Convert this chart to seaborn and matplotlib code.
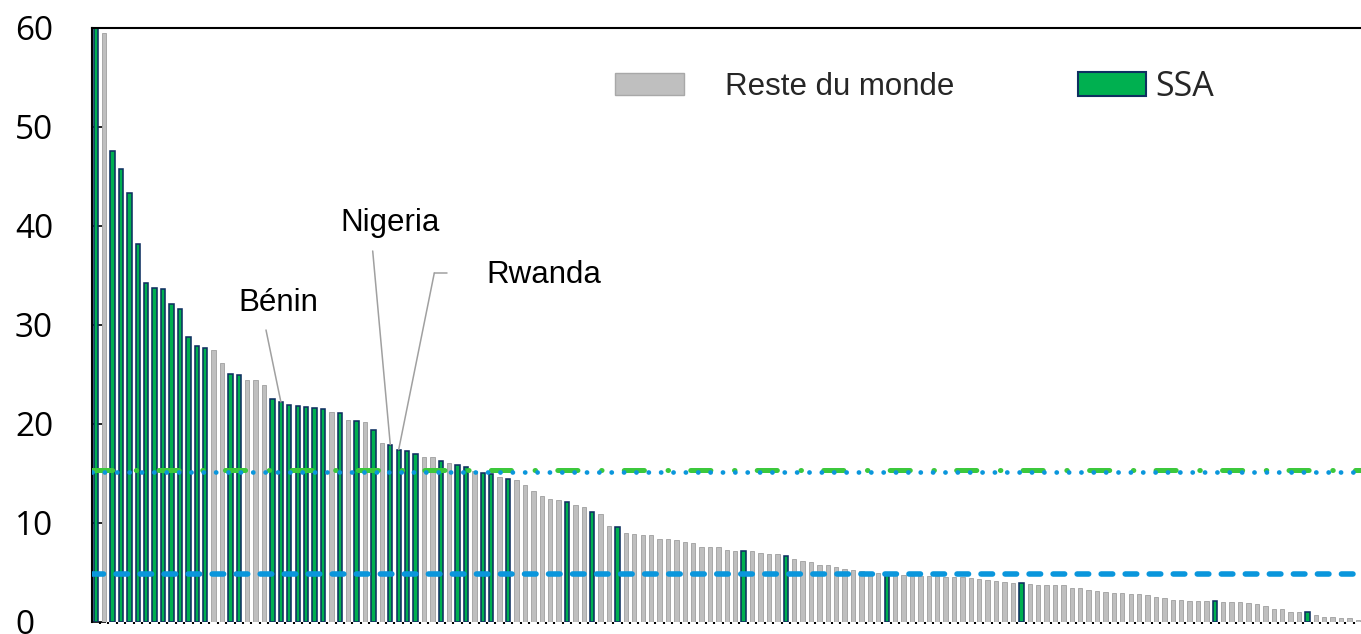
import matplotlib
matplotlib.use("Agg")
import matplotlib.pyplot as plt
import seaborn as sns
import pandas as pd
import numpy as np
from matplotlib.patches import Patch

# ---------------- data ----------------
values = [
    60.0, 59.5, 47.5, 45.7, 43.3, 38.2, 34.2, 33.7, 33.6, 32.1,
    31.6, 28.8, 27.9, 27.7, 27.5, 26.1, 25.0, 24.9, 24.4, 24.4,
    23.9, 22.5, 22.2, 21.9, 21.8, 21.7, 21.6, 21.5, 21.2, 21.1,
    20.4, 20.3, 20.2, 19.4, 18.1, 17.9, 17.4, 17.3, 17.0, 16.7,
    16.7, 16.3, 16.0, 15.8, 15.6, 15.2, 15.0, 14.9, 14.6, 14.4,
    14.3, 13.8, 13.2, 12.7, 12.4, 12.3, 12.1, 11.8, 11.6, 11.1,
    10.9, 9.7, 9.6, 9.0, 8.9, 8.8, 8.8, 8.4, 8.4, 8.3,
    8.1, 8.0, 7.6, 7.6, 7.6, 7.3, 7.2, 7.2, 7.2, 7.0,
    6.9, 6.9, 6.7, 6.4, 6.2, 6.1, 5.8, 5.8, 5.6, 5.4,
    5.2, 5.1, 5.0, 4.9, 4.8, 4.75, 4.7, 4.68, 4.65, 4.63,
    4.6, 4.58, 4.55, 4.5, 4.4, 4.35, 4.25, 4.15, 4.05, 3.95,
    3.9, 3.8, 3.75, 3.7, 3.7, 3.7, 3.4, 3.4, 3.25, 3.1,
    3.0, 2.9, 2.9, 2.85, 2.85, 2.7, 2.55, 2.4, 2.2, 2.2,
    2.15, 2.15, 2.1, 2.1, 2.05, 2.0, 2.0, 1.9, 1.8, 1.6,
    1.35, 1.3, 1.05, 1.0, 0.98, 0.67, 0.54, 0.5, 0.44, 0.37,
    0.24,
]
# 1-based ranks of Sub-Saharan African countries
ssa_ranks = [1, 3, 4, 5, 6, 7, 8, 9, 10, 11, 12, 13, 14, 17, 18,
             22, 23, 24, 25, 26, 27, 28, 30, 32, 34, 36, 37, 38, 39,
             42, 44, 45, 47, 48, 50, 57, 60, 63, 78, 83, 95, 111, 134, 145]
groups = ["Reste du monde", "SSA"]
avg_ssa = 15.3
avg_world = 15.1
median_world = 4.8
yticks = [0, 10, 20, 30, 40, 50, 60]
annotated = [("Bénin", 23), ("Nigeria", 36), ("Rwanda", 37)]

# ---------------- style ----------------
sns.set_style("white")
plt.rcParams["font.family"] = ["Liberation Sans", "DejaVu Sans"]
plt.rcParams["lines.scale_dashes"] = False

GREEN = "#00B050"
NAVY = "#0E2F60"
GREY = "#BFBFBF"
GREY_EDGE = "#A8A8A8"
LINE_GREEN = "#3CC83C"
LINE_BLUE = "#0A96DC"

n = len(values)
ranks = list(range(1, n + 1))
df = pd.DataFrame({
    "rank": ranks,
    "value": values,
    "group": [groups[1] if r in ssa_ranks else groups[0] for r in ranks],
})

W, H = 1361, 634
fig = plt.figure(figsize=(W / 100, H / 100), dpi=100)
ax = fig.add_axes([92 / W, 12 / H, 1 - 92 / W, 594.4 / H])

sns.barplot(data=df, x="rank", y="value", hue="group", order=ranks,
            hue_order=groups, palette={groups[0]: GREY, groups[1]: GREEN},
            dodge=False, width=0.52, saturation=1, errorbar=None,
            legend=False, ax=ax)

green_rgb = np.array(matplotlib.colors.to_rgb(GREEN))
for p in ax.patches:
    fc = np.array(p.get_facecolor()[:3])
    if np.allclose(fc, green_rgb, atol=0.02):
        p.set_edgecolor(NAVY)
        p.set_linewidth(1.15)
    else:
        p.set_edgecolor(GREY_EDGE)
        p.set_linewidth(0.7)

ax.set_xlim(-0.45, n - 1 + 0.37)
ax.set_ylim(0, 60)

# reference lines
ax.axhline(avg_ssa, color=LINE_GREEN, lw=3.6,
           linestyle=(0, (14.5, 17, 0.36, 16)), dash_capstyle="round", zorder=3)
ax.axhline(avg_world, color=LINE_BLUE, lw=3.4,
           linestyle=(0, (0.1, 8.8)), dash_capstyle="round", zorder=4)
ax.axhline(median_world, color=LINE_BLUE, lw=4.0,
           linestyle=(0, (8.3, 9.0)), dash_capstyle="round", zorder=4)

# spines & ticks
for s in ["left", "top"]:
    ax.spines[s].set_visible(True)
    ax.spines[s].set_color("black")
    ax.spines[s].set_linewidth(1.5)
ax.spines["right"].set_visible(False)
ax.spines["bottom"].set_visible(False)

ax.set_yticks(yticks)
ax.set_yticklabels([str(t) for t in yticks], fontfamily="Open Sans",
                   fontsize=24, ha="left")
ax.tick_params(axis="y", direction="in", length=10, width=1.2, pad=55.4,
               colors="black", left=True)
ax.set_xticks(np.arange(0.5, n - 1, 1.0))
ax.tick_params(axis="x", direction="out", length=1.6, width=1.5,
               labelbottom=False, bottom=True, colors="black")
ax.set_xlabel("")
ax.set_ylabel("")

# annotations
text_pos = {"Bénin": (238, 311), "Nigeria": (340, 231), "Rwanda": (486, 283)}
line_start = {"Bénin": (266, 330), "Nigeria": (372.7, 251), "Rwanda": (434.3, 273)}
for name, rank in annotated:
    tx, ty = text_pos[name]
    fig.text(tx / W, 1 - ty / H, name, fontsize=22.5, ha="left",
             va="baseline", color="black")
    lx, ly = line_start[name]
    ax.annotate("", xy=(rank - 1, values[rank - 1]), xycoords="data",
                xytext=(lx, H - ly), textcoords="figure pixels",
                arrowprops=dict(arrowstyle="-", color="#A0A0A0", lw=1.1,
                                shrinkA=0, shrinkB=0), zorder=5)
ax.annotate("", xy=(447, H - 273), xycoords="figure pixels",
            xytext=(434.3, H - 273), textcoords="figure pixels",
            arrowprops=dict(arrowstyle="-", color="#A0A0A0", lw=1.1,
                            shrinkA=0, shrinkB=0))

# legends
fig.legend(handles=[Patch(facecolor=GREY, edgecolor=GREY_EDGE, lw=1)],
           labels=[groups[0]], loc="center left",
           bbox_to_anchor=(615 / W, 1 - 87 / H), frameon=False,
           borderpad=0, borderaxespad=0, handlelength=2.2, handleheight=0.74,
           handletextpad=1.31, prop={"family": "Liberation Sans", "size": 22.5})
fig.legend(handles=[Patch(facecolor=GREEN, edgecolor=NAVY, lw=1.5)],
           labels=[groups[1]], loc="center left",
           bbox_to_anchor=(1078 / W, 1 - 87 / H), frameon=False,
           borderpad=0, borderaxespad=0, handlelength=2.0, handleheight=0.68,
           handletextpad=0.26, prop={"family": "Open Sans", "size": 24.5})

fig.savefig("out.png", dpi=100)
